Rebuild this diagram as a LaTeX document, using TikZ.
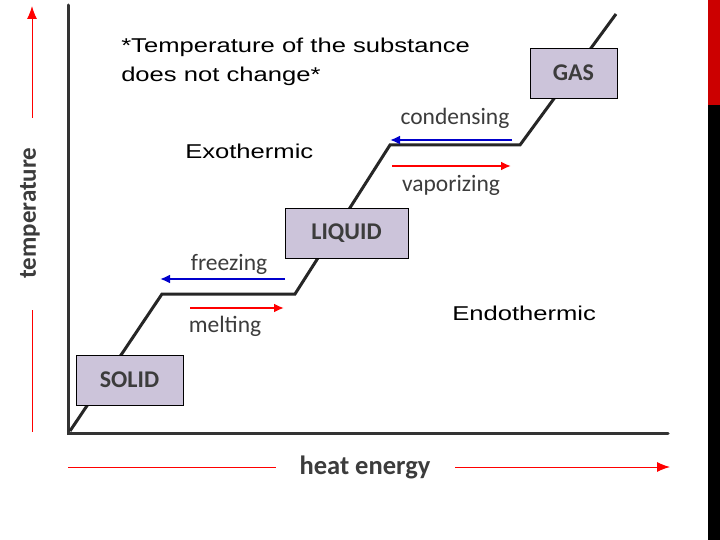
\documentclass[tikz,border=0pt]{standalone}
\usepackage{fontspec}
\setmainfont{Carlito}
\newfontfamily\arial{Liberation Sans}
\begin{document}
\begin{tikzpicture}[x=1pt,y=-1pt,
  phase/.style={draw=black,fill=lav,minimum width=#1,minimum height=50pt,inner sep=0pt,font=\fontsize{24}{26}\selectfont\bfseries\color{darkgray}},
  lbl/.style={font=\fontsize{23.5}{25}\selectfont,text=darkgray,inner sep=0pt},
  note/.style={font=\arial\fontsize{20}{29}\selectfont,align=left,inner sep=0pt,anchor=west,xscale=1.28},
  redarr/.style={draw=red,line width=2pt,-{Latex[length=10pt,width=9pt]}},
  bluearr/.style={draw=blue!80!black,line width=2pt,-{Latex[length=10pt,width=9pt]}},
  axarr/.style={draw=red,line width=1pt,-{Latex[length=13pt,width=10pt]}}]
\usetikzlibrary{arrows.meta}
\definecolor{lav}{RGB}{204,196,218}
\definecolor{darkgray}{RGB}{60,60,60}
\useasboundingbox (0,0) rectangle (720,540);
\fill[white] (0,0) rectangle (720,540);
\fill[red!80!black] (708,0) rectangle (720,105);
\fill[black] (708,105) rectangle (720,540);
% axes
\coordinate (o) at (68,433);
\coordinate (ytop) at (68,5);
\coordinate (xend) at (668,433);
\draw[line width=3pt,black!80,line cap=round] (ytop) -- (o) -- (xend);
% curve
\coordinate (c0) at (70,431);
\coordinate (c1) at (162,294);
\coordinate (c2) at (295,294);
\coordinate (c3) at (390,145);
\coordinate (c4) at (520,145);
\coordinate (c5) at (616,14);
\draw[line width=3pt,black!85] (c0) -- (c1) -- (c2) -- (c3) -- (c4) -- (c5);
% boxes
\node[phase=107pt] (solid) at (129.5,380) {SOLID};
\node[phase=123pt] (liquid) at (346.5,233) {LIQUID};
\node[phase=87pt] (gas) at (573.5,73) {GAS};
% phase arrows
\coordinate (fz1) at (285,279); \coordinate (fz2) at (160,279);
\draw[bluearr] (fz1) -- (fz2);
\node[lbl] (freezing) at (229,264) {freezing};
\coordinate (ml1) at (190,308); \coordinate (ml2) at (284,308);
\draw[redarr] (ml1) -- (ml2);
\node[lbl] (melting) at (225,326) {melting};
\coordinate (cd1) at (512,140); \coordinate (cd2) at (390,140);
\draw[bluearr] (cd1) -- (cd2);
\node[lbl] (condensing) at (455,118) {condensing};
\coordinate (vp1) at (392,166); \coordinate (vp2) at (511,166);
\draw[redarr] (vp1) -- (vp2);
\node[lbl] (vaporizing) at (451,185) {vaporizing};
% axis labels
\node[lbl,rotate=90,font=\fontsize{25}{27}\selectfont\bfseries] (temp) at (30,213) {temperature};
\coordinate (t1) at (32,118); \coordinate (t2) at (32,6);
\draw[axarr] (t1) -- (t2);
\coordinate (t3) at (32,310); \coordinate (t4) at (32,432);
\draw[draw=red,line width=1pt] (t3) -- (t4);
\node[lbl,font=\fontsize{26.5}{28}\selectfont\bfseries] (heat) at (365,467) {heat energy};
\coordinate (h1) at (68,467); \coordinate (h2) at (276,467);
\draw[draw=red,line width=1pt] (h1) -- (h2);
\coordinate (h3) at (455,467); \coordinate (h4) at (670,467);
\draw[axarr] (h3) -- (h4);
% notes
\node[note] (n1) at (121,62) {*Temperature of the substance\\does not change*};
\node[note] (exo) at (185,151) {Exothermic};
\node[note] (endo) at (452,313) {Endothermic};
\end{tikzpicture}
\end{document}
